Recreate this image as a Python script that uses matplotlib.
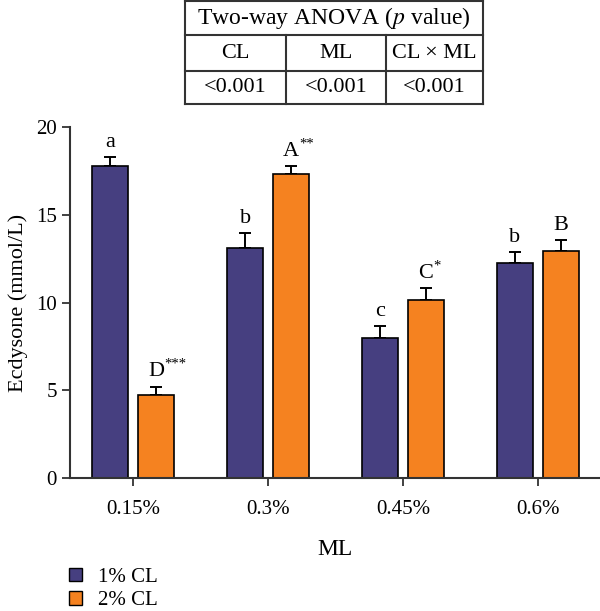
import numpy as np
import matplotlib
matplotlib.use("Agg")
import matplotlib.pyplot as plt
from matplotlib.patches import Patch

plt.rcParams["font.family"] = ["Liberation Serif", "DejaVu Serif"]
plt.rcParams["mathtext.fontset"] = "stix"

# Dados
ml_niveis = ["0.15%", "0.3%", "0.45%", "0.6%"]
series = ["1% CL", "2% CL"]
media_cl1 = [17.8, 13.1, 8.0, 12.25]
erro_cl1 = [0.5, 0.85, 0.65, 0.6]
media_cl2 = [4.75, 17.3, 10.15, 12.95]
erro_cl2 = [0.45, 0.45, 0.65, 0.6]
letras_cl1 = ["a", "b", "c", "b"]
letras_cl2 = ["D", "A", "C", "B"]
asteriscos_cl2 = ["***", "**", "*", ""]

anova_cab = ["CL", "ML", "CL \u00d7 ML"]
anova_p = ["<0.001", "<0.001", "<0.001"]

cor1 = "#463f80"
cor2 = "#f58220"

W, H = 600, 611
fig = plt.figure(figsize=(W / 100, H / 100), dpi=100)

# eixo principal (posição em pixels)
x0, x1, ytop, ybot = 70, 600, 127, 478
ax = fig.add_axes([x0 / W, (H - ybot) / H, (x1 - x0) / W, (ybot - ytop) / H])

x = np.arange(len(ml_niveis))
largura = 0.27
desloc = 0.17

ax.bar(x - desloc, media_cl1, largura, color=cor1, edgecolor="black", linewidth=1.2, zorder=2)
ax.bar(x + desloc, media_cl2, largura, color=cor2, edgecolor="black", linewidth=1.2, zorder=2)
ax.errorbar(x - desloc, media_cl1, yerr=[np.zeros(4), erro_cl1], fmt="none",
            ecolor="black", elinewidth=1.4, capsize=4.5, capthick=1.4, zorder=1)
ax.errorbar(x + desloc, media_cl2, yerr=[np.zeros(4), erro_cl2], fmt="none",
            ecolor="black", elinewidth=1.4, capsize=4.5, capthick=1.4, zorder=1)

for i in range(len(x)):
    ax.text(x[i] - desloc, media_cl1[i] + erro_cl1[i] + 0.3, letras_cl1[i],
            ha="center", va="bottom", fontsize=16)
    t = ax.text(x[i] + desloc, media_cl2[i] + erro_cl2[i] + 0.3, letras_cl2[i],
                ha="center", va="bottom", fontsize=16)
    if asteriscos_cl2[i]:
        ax.annotate(asteriscos_cl2[i], xy=(1.02, 0.9), xycoords=t, ha="left", va="center",
                    fontsize=10.5)

ax.set_xlim(-0.467, 3.46)
ax.set_ylim(0, 20)
ax.set_yticks([0, 5, 10, 15, 20])
ax.set_xticks(x)
ax.set_xticklabels(ml_niveis)
ax.tick_params(axis="both", labelsize=15, width=1.3, length=6, color="#333333")
ax.tick_params(axis="x", pad=10)
for s in ["top", "right"]:
    ax.spines[s].set_visible(False)
for s in ["left", "bottom"]:
    ax.spines[s].set_linewidth(1.5)
    ax.spines[s].set_color("#333333")
ax.set_ylabel("Ecdysone (mmol/L)", fontsize=16, labelpad=6)
ax.set_xlabel("ML", fontsize=17, labelpad=14)

# legenda
legenda = [Patch(facecolor=cor1, edgecolor="black", label=series[0]),
           Patch(facecolor=cor2, edgecolor="black", label=series[1])]
fig.legend(handles=legenda, loc="upper left", bbox_to_anchor=(67 / W, 1 - 566 / H),
           frameon=False, fontsize=15, handlelength=0.6, handleheight=0.6,
           handletextpad=0.8, labelspacing=0.2, borderaxespad=0, borderpad=0.1)

# tabela ANOVA
tx0, tx1, ty0, ty1 = 185, 483, 1, 104
tab = fig.add_axes([tx0 / W, (H - ty1) / H, (tx1 - tx0) / W, (ty1 - ty0) / H])
tab.set_xlim(tx0, tx1)
tab.set_ylim(ty1, ty0)
tab.axis("off")
lw = 1.5
cinza = "#333333"
for yy in [ty0, 35, 71, ty1]:
    tab.plot([tx0, tx1], [yy, yy], color=cinza, lw=lw, clip_on=False)
for xx in [tx0, tx1]:
    tab.plot([xx, xx], [ty0, ty1], color=cinza, lw=lw, clip_on=False)
for xx in [286, 386]:
    tab.plot([xx, xx], [35, ty1], color=cinza, lw=lw, clip_on=False)
tab.text((tx0 + tx1) / 2, 18, "Two-way ANOVA ($\\mathit{p}$ value)", ha="center", va="center", fontsize=17)
centros = [(tx0 + 286) / 2, (286 + 386) / 2, (386 + tx1) / 2]
for c, cab, p in zip(centros, anova_cab, anova_p):
    tab.text(c, 53, cab, ha="center", va="center", fontsize=16)
    tab.text(c, 88, p, ha="center", va="center", fontsize=16)

fig.savefig("out.png", dpi=100)
